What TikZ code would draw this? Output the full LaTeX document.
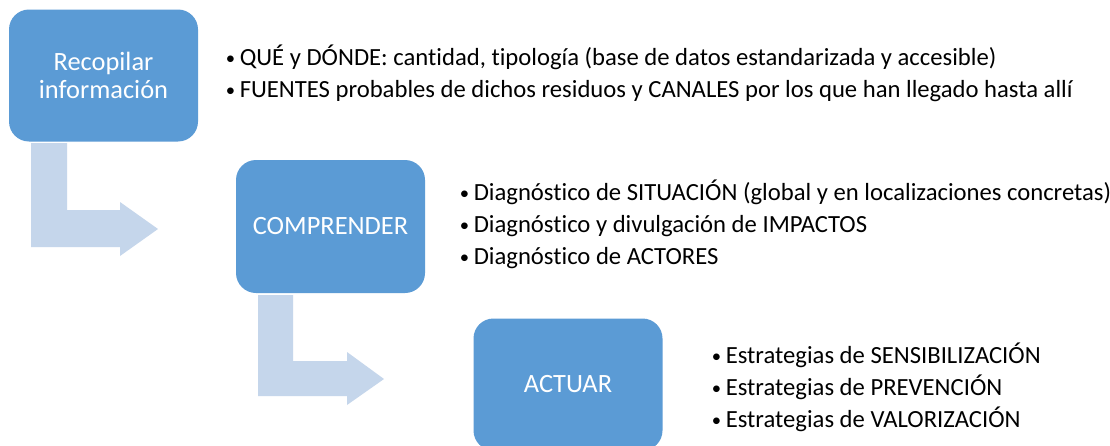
\documentclass[tikz,border=0pt]{standalone}
\usepackage{fontspec}
\setmainfont{Carlito}[Ligatures=NoCommon]
\definecolor{boxblue}{HTML}{5B9BD5}
\definecolor{arrowblue}{HTML}{C5D6EB}
\tikzset{
  stepbox/.style={fill=boxblue, draw=none, rounded corners=15pt, minimum width=141.75pt, minimum height=99pt, text=white, align=center, font=\fontsize{19.8}{21}\selectfont, inner sep=0pt},
  listtext/.style={anchor=west, align=left, inner sep=0pt, font=\fontsize{18.5}{24}\selectfont, text=black},
  bentarrow/.style={fill=arrowblue, draw=none}
}
\newcommand{\bul}{\makebox[10.5pt][l]{\raisebox{0.8pt}{\fontsize{14}{14}\selectfont •}}}
\begin{document}
\begin{tikzpicture}[x=0.75pt,y=-0.75pt]
\useasboundingbox (0,0) rectangle (1110,446);
\clip (0,0) rectangle (1110,446);
\fill[white] (0,0) rectangle (1110,446);
% arrows
\coordinate (a1) at (31,143);
\coordinate (a2) at (258,295);
\fill[bentarrow] (a1) -- ++(36,0) -- ++(0,67) -- ++(53,0) -- ++(0,-8) -- ++(38,27) -- ++(-38,27) -- ++(0,-9) -- ++(-89,0) -- cycle;
\fill[bentarrow] (a2) -- ++(35,0) -- ++(0,66) -- ++(54,0) -- ++(0,-9) -- ++(37,27) -- ++(-37,26) -- ++(0,-9) -- ++(-89,0) -- cycle;
% boxes
\node[stepbox] (b1) at (103.5,75.5) {Recopilar\\información};
\node[stepbox, minimum height=99.75pt] (b2) at (330.5,226.5) {COMPRENDER};
\node[stepbox] (b3) at (568,384.5) {ACTUAR};
% lists
\node[listtext] (t1) at (225.5,73) {\bul QUÉ y DÓNDE: cantidad, tipología (base de datos estandarizada y accesible)\\
\bul FUENTES probables de dichos residuos y CANALES por los que han llegado hasta allí};
\node[listtext] (t2) at (459.5,224) {\bul Diagnóstico de SITUACIÓN (global y en localizaciones concretas)\\
\bul Diagnóstico y divulgación de IMPACTOS\\
\bul Diagnóstico de ACTORES};
\node[listtext] (t3) at (711.5,387) {\bul Estrategias de SENSIBILIZACIÓN\\
\bul Estrategias de PREVENCIÓN\\
\bul Estrategias de VALORIZACIÓN};
\end{tikzpicture}
\end{document}
